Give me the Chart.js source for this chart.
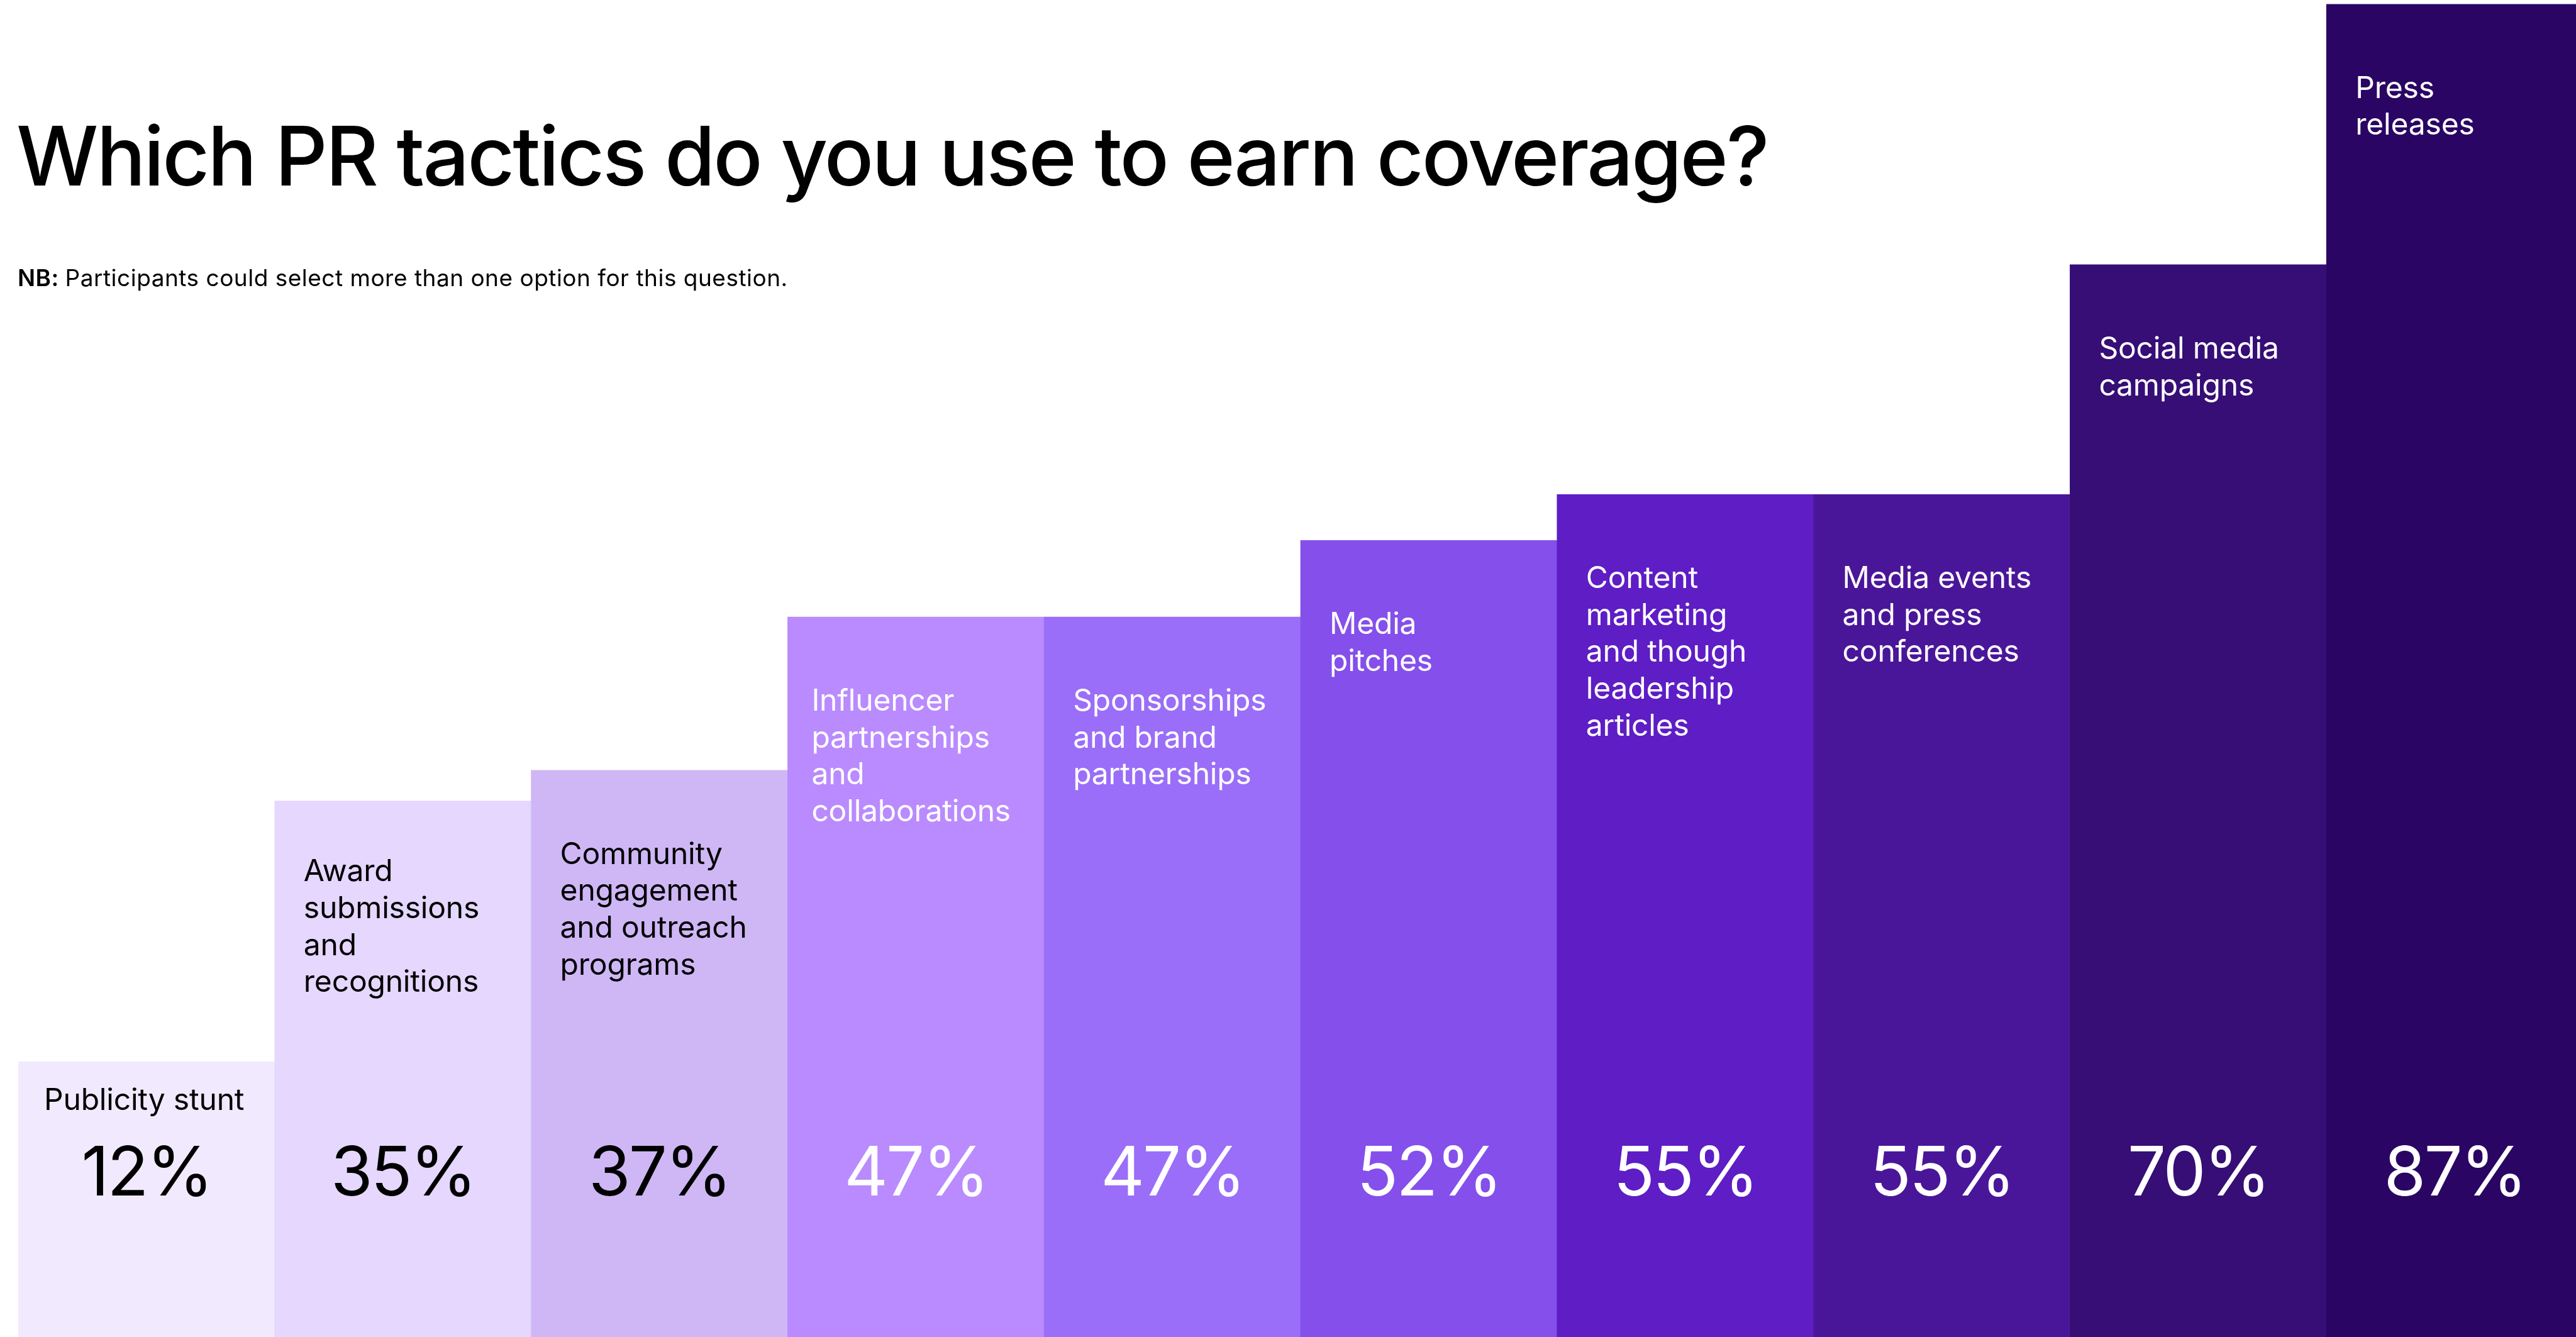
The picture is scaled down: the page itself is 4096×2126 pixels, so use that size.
<!DOCTYPE html>
<html>
<head>
<meta charset="utf-8">
<title>PR tactics</title>
<script src="https://cdn.jsdelivr.net/npm/chart.js@4.4.1/dist/chart.umd.min.js"></script>
<style>
  html, body { margin: 0; padding: 0; background: #fff; overflow: hidden; }
  #wrap { width: 4096px; height: 2126px; overflow: hidden; }
</style>
</head>
<body>
<!-- the last column runs slightly past the right edge, so the canvas is a bit wider than the frame -->
<div id="wrap"><canvas id="tacticsChart" width="4107" height="2126"></canvas></div>
<script>
  // ---- Data ----
  const tactics = [
    ['Publicity stunt'],
    ['Award', 'submissions', 'and', 'recognitions'],
    ['Community', 'engagement', 'and outreach', 'programs'],
    ['Influencer', 'partnerships', 'and', 'collaborations'],
    ['Sponsorships', 'and brand', 'partnerships'],
    ['Media', 'pitches'],
    ['Content', 'marketing', 'and though', 'leadership', 'articles'],
    ['Media events', 'and press', 'conferences'],
    ['Social media', 'campaigns'],
    ['Press', 'releases']
  ];
  const share = [12, 35, 37, 47, 47, 52, 55, 55, 70, 87];

  // ---- Look ----
  const barColors = ['#F1EAFE','#E5D7FD','#CFB7F6','#B98BFE','#9A6EF8','#854FEB','#5E1DC5','#4A1699','#360E76','#2A0564'];
  const inkColors = ['#000','#000','#000','#fff','#fff','#fff','#fff','#fff','#fff','#fff'];
  const labelDrop = [77, 128, 149, 149, 149, 149, 149, 149, 149, 149];
  const labelIndent = [41, 46, 46, 38, 46, 46, 46, 46, 46, 46];
  const FONT = 'Inter, "Liberation Sans", sans-serif';

  // text drawn on top of the bars: heading, note, tactic names and percentages
  const barText = {
    id: 'barText',
    afterDatasetsDraw(chart) {
      const c = chart.ctx;
      const meta = chart.getDatasetMeta(0);
      const bottom = chart.chartArea.bottom;
      c.save();
      c.textBaseline = 'alphabetic';

      // heading + note
      c.fillStyle = '#000';
      c.textAlign = 'left';
      c.font = '500 130px ' + FONT;
      c.letterSpacing = '-3px';
      c.fillText('Which PR tactics do you use to earn coverage?', 26, 295);
      c.letterSpacing = '0.5px';
      c.font = '600 37px ' + FONT;
      c.fillText('NB:', 28, 455);
      const nbW = c.measureText('NB: ').width;
      c.font = '400 37px ' + FONT;
      c.fillText('Participants could select more than one option for this question.', 28 + nbW, 455);

      meta.data.forEach((bar, i) => {
        const left = bar.x - bar.width / 2;
        c.fillStyle = inkColors[i];

        // tactic name, top-left inside the bar
        c.textAlign = 'left';
        c.font = '400 48px ' + FONT;
        c.letterSpacing = '-0.2px';
        tactics[i].forEach((line, j) => {
          c.fillText(line, left + labelIndent[i], bar.y + labelDrop[i] + j * 58.6);
        });

        // percentage, centred near the foot of the bar
        c.textAlign = 'center';
        c.font = '400 108px ' + FONT;
        c.letterSpacing = '-3px';
        c.fillText(share[i] + '%', bar.x, bottom - 225);
      });
      c.restore();
    }
  };

  new Chart(document.getElementById('tacticsChart'), {
    type: 'bar',
    data: {
      labels: tactics,
      datasets: [{
        data: share,
        backgroundColor: barColors,
        borderWidth: 0,
        barPercentage: 1,
        categoryPercentage: 1,
        minBarLength: 438
      }]
    },
    options: {
      responsive: false,
      animation: false,
      layout: { padding: { left: 29, right: 0, top: 0, bottom: 0 } },
      plugins: {
        legend: { display: false },
        tooltip: { enabled: false }
      },
      scales: {
        x: { display: false, grid: { display: false } },
        y: { display: false, min: 0, max: 87.28, grid: { display: false } }
      }
    },
    plugins: [barText]
  });
</script>
</body>
</html>
